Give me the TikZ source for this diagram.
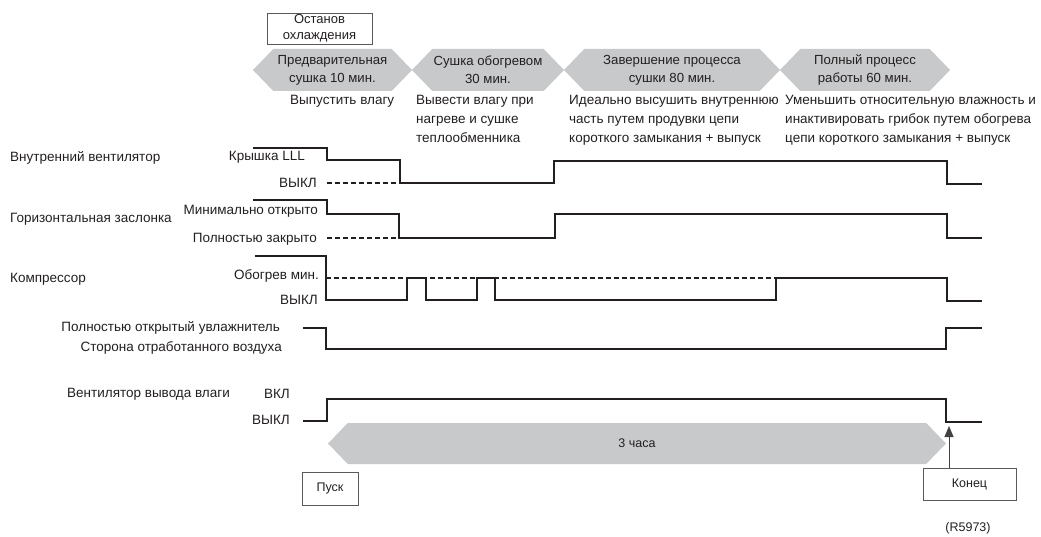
\documentclass[tikz,border=0pt]{standalone}
\usepackage{fontspec}
\setmainfont{Liberation Sans}
\usetikzlibrary{shapes.symbols,arrows.meta}
\definecolor{ink}{RGB}{35,31,32}
\definecolor{phasegray}{RGB}{200,201,203}
\definecolor{framegray}{RGB}{90,90,90}
\begin{document}
\begin{tikzpicture}[x=1pt, y=-1pt, every node/.style={text=ink},
  phase/.style={signal, signal to=east and west, signal pointer angle=92,
                fill=phasegray, inner sep=0, minimum height=42, align=center,
                font=\fontsize{13.2}{18}\selectfont},
  note/.style={anchor=base west, inner sep=0, align=left,
               font=\fontsize{13.5}{19}\selectfont},
  lbl/.style={anchor=base east, inner sep=0, font=\fontsize{13.5}{15}\selectfont},
  sig/.style={anchor=base west, inner sep=0, font=\fontsize{13.5}{15}\selectfont},
  markbox/.style={draw=framegray, line width=0.8pt, inner sep=0, align=center,
                  font=\fontsize{13}{16}\selectfont},
  wave/.style={draw=ink, line width=2.4pt},
  idle/.style={draw=ink, line width=2pt, dash pattern=on 4.5pt off 3.5pt},
  arrow/.style={-{Triangle[width=9pt,length=11pt]}, draw=ink!85, line width=1pt}
]
  \useasboundingbox (0,0) rectangle (1041,537);

  % phases
  \node[markbox, minimum width=105, minimum height=31] (cool) at (319.5,28.5) {Останов\\охлаждения};
  \node[phase, minimum width=159] (pre) at (332.5,70) {Предварительная\\сушка 10 мин.};
  \node[phase, minimum width=152] (heat) at (488,70) {Сушка обогревом\\30 мин.};
  \node[phase, minimum width=216] (fin) at (672,70) {Завершение процесса\\сушки 80 мин.};
  \node[phase, minimum width=170] (full) at (865,70) {Полный процесс\\работы 60 мин.};

  % base = last line
  \node[note] (pretxt) at (290,104.5) {Выпустить влагу};
  \node[note] (heattxt) at (416,142.5) {Вывести влагу при\\нагреве и сушке\\теплообменника};
  \node[note] (fintxt) at (569,142.5) {Идеально высушить внутреннюю\\часть путем продувки цепи\\короткого замыкания + выпуск};
  \node[note] (fulltxt) at (785,142.5) {Уменьшить относительную влажность и\\инактивировать грибок путем обогрева\\цепи короткого замыкания + выпуск};

  % signal names and levels
  \node[sig] (fan) at (10,161.5) {Внутренний вентилятор};
  \node[lbl] (fanhi) at (305,161) {Крышка LLL};
  \node[lbl] (fanlo) at (317,187.5) {ВЫКЛ};
  \node[sig] (flap) at (10,222.5) {Горизонтальная заслонка};
  \node[lbl] (flaphi) at (318,214.5) {Минимально открыто};
  \node[lbl] (flaplo) at (317,242.5) {Полностью закрыто};
  \node[sig] (comp) at (10,282.5) {Компрессор};
  \node[lbl] (comphi) at (319,279.5) {Обогрев мин.};
  \node[lbl] (complo) at (318,304.5) {ВЫКЛ};
  \node[lbl] (humhi) at (280,331.5) {Полностью открытый увлажнитель};
  \node[lbl] (humlo) at (282,351.5) {Сторона отработанного воздуха};
  \node[sig] (exfan) at (67,397.5) {Вентилятор вывода влаги};
  \node[lbl] (exhi) at (290,398.5) {ВКЛ};
  \node[lbl] (exlo) at (290,424.5) {ВЫКЛ};

  % waveforms
  \draw[idle] (327,183) -- (400,183);
  \draw[wave] (253,148) -| (327,160) -| (400,183) -| (554,161) -| (947,184) -- (982,184);
  \draw[idle] (327,238) -- (399,238);
  \draw[wave] (253,200) -| (327,214) -| (399,238) -| (555,214) -| (947,238) -- (982,238);
  \draw[idle] (326,278) -- (776,278);
  \draw[wave] (255,256) -| (326,300) -| (407,278) -| (426,300) -| (477,278) -| (495,300)
              -| (776,278) -| (947,301) -- (982,301);
  \draw[wave] (303,328) -| (326,349) -| (946,328) -- (982,328);
  \draw[wave] (303,421) -| (327,399) -| (946,422) -- (982,422);

  % run time
  \node[phase, minimum width=618, minimum height=41, font=\fontsize{12.5}{15}\selectfont] (run) at (637,443.5) {3 часа};
  \node[markbox, minimum width=56, minimum height=33, font=\fontsize{12.5}{15}\selectfont] (start) at (330,488.5) {Пуск};
  \node[markbox, minimum width=93, minimum height=32, font=\fontsize{12.5}{15}\selectfont] (stop) at (969.5,484) {Конец};
  \coordinate (stopmark) at (949,426);
  \draw[arrow] (stop.north -| stopmark) -- (stopmark);
  \node[font=\fontsize{12.5}{15}\selectfont] (ref) at (968,528) {(R5973)};
\end{tikzpicture}
\end{document}
